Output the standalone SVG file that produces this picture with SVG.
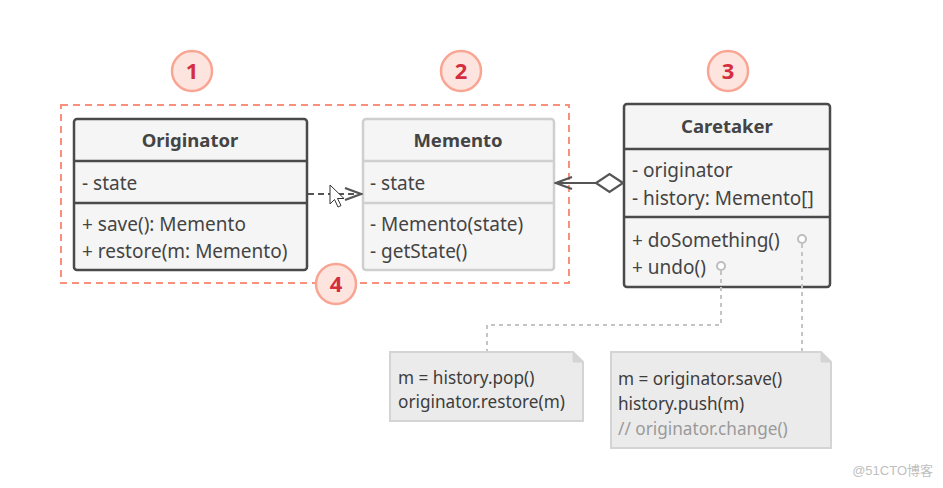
<svg xmlns="http://www.w3.org/2000/svg" width="943" height="488" viewBox="0 0 943 488">
<style>
text{font-family:"Noto Sans","Open Sans","Liberation Sans",sans-serif;}
.box{fill:#f5f5f5;stroke:#4a4a4a;stroke-width:2.5;}
.boxl{fill:#f5f5f5;stroke:#cfcfcf;stroke-width:2.5;}
.div{stroke:#4a4a4a;stroke-width:2.5;}
.divl{stroke:#cfcfcf;stroke-width:2.5;}
.t{font-size:19px;fill:#444;}
.title{font-size:18.5px;font-weight:bold;fill:#444;text-anchor:middle;}
.num circle{fill:#fde4de;stroke:#f9a593;stroke-width:2.5;}
.num text{font-size:22px;font-weight:bold;fill:#d32f3f;text-anchor:middle;}
.note{fill:#ebebeb;stroke:#d4d4d4;stroke-width:2;}
.nt{font-size:17.2px;fill:#3d3d3d;}
.dot{fill:none;stroke:#c4c4c4;stroke-width:2;stroke-dasharray:4,4;}
.pin{fill:#fff;stroke:#bdbdbd;stroke-width:2;}
</style>
<defs>
<marker id="open" markerWidth="20" markerHeight="16" refX="18" refY="8" orient="auto" markerUnits="userSpaceOnUse">
<path d="M2,2 L18,8 L2,14" fill="none" stroke="#555" stroke-width="2.2"/>
</marker>
</defs>

<rect x="61" y="105" width="508" height="178" fill="none" stroke="#f8907c" stroke-width="2" stroke-dasharray="7,5"/>

<g id="num1" class="num"><circle cx="192" cy="71" r="20"/><text x="192" y="79">1</text></g>
<g id="num2" class="num"><circle cx="461" cy="71" r="20"/><text x="461" y="79">2</text></g>
<g id="num3" class="num"><circle cx="728" cy="71" r="20"/><text x="728" y="79">3</text></g>

<g id="originator">
<rect class="box" x="74" y="119" width="233" height="151" rx="3"/>
<line class="div" x1="74" y1="161" x2="307" y2="161"/>
<line class="div" x1="74" y1="203" x2="307" y2="203"/>
<text class="title" x="190" y="147">Originator</text>
<text class="t" x="82" y="190">- state</text>
<text class="t" x="82" y="231">+ save(): Memento</text>
<text class="t" x="82" y="258">+ restore(m: Memento)</text>
</g>

<g id="memento">
<rect class="boxl" x="363" y="119" width="191" height="151" rx="3"/>
<line class="divl" x1="363" y1="161" x2="554" y2="161"/>
<line class="divl" x1="363" y1="203" x2="554" y2="203"/>
<text class="title" x="458" y="147">Memento</text>
<text class="t" x="370" y="190">- state</text>
<text class="t" x="370" y="231">- Memento(state)</text>
<text class="t" x="370" y="258">- getState()</text>
</g>

<g id="caretaker">
<rect class="box" x="624" y="104" width="206" height="183" rx="3"/>
<line class="div" x1="624" y1="149" x2="830" y2="149"/>
<line class="div" x1="624" y1="217" x2="830" y2="217"/>
<text class="title" x="727" y="133">Caretaker</text>
<text class="t" x="632" y="177">- originator</text>
<text class="t" x="632" y="205">- history: Memento[]</text>
<text class="t" x="632" y="247">+ doSomething()</text>
<text class="t" x="632" y="274">+ undo()</text>
<circle class="pin" cx="802" cy="239" r="4"/>
<circle class="pin" cx="721" cy="266" r="4"/>
</g>

<g id="num4" class="num"><circle cx="336" cy="284" r="20"/><text x="336" y="292">4</text></g>

<g id="note1">
<path class="note" d="M390,352 H573 L583,362 V421 H390 Z"/>
<path d="M573,352 V362 H583" fill="#d4d4d4" stroke="#d4d4d4" stroke-width="1"/>
<text class="nt" x="398" y="384">m = history.pop()</text>
<text class="nt" x="398" y="408">originator.restore(m)</text>
</g>

<g id="note2">
<path class="note" d="M611,352 H821 L831,362 V448 H611 Z"/>
<path d="M821,352 V362 H831" fill="#d4d4d4" stroke="#d4d4d4" stroke-width="1"/>
<text class="nt" x="618" y="385">m = originator.save()</text>
<text class="nt" x="618" y="410">history.push(m)</text>
<text class="nt" x="618" y="435" style="fill:#9a9a9a">// originator.change()</text>
</g>

<g id="connectors">
<line x1="308" y1="194" x2="361" y2="194" stroke="#555" stroke-width="2.2" stroke-dasharray="6,4" marker-end="url(#open)"/>
<line x1="596" y1="183" x2="556" y2="183" stroke="#555" stroke-width="2.2" marker-end="url(#open)"/>
<path d="M623,183 L609.5,174 L596,183 L609.5,192 Z" fill="#fff" stroke="#555" stroke-width="2.2"/>
<path class="dot" d="M721,271 V325 H487 V351"/>
<path class="dot" d="M802,244 V351"/>
</g>

<path d="M330,185 V204 L334.5,199.5 L338,207 L341,205.5 L337.5,198.5 L344,198.5 Z" fill="#fff" stroke="#333" stroke-width="1"/>

<text x="933" y="475" font-size="13" fill="#c0c0c0" text-anchor="end" style="font-family:'Liberation Sans','Noto Sans CJK SC',sans-serif">@51CTO博客</text>
</svg>
